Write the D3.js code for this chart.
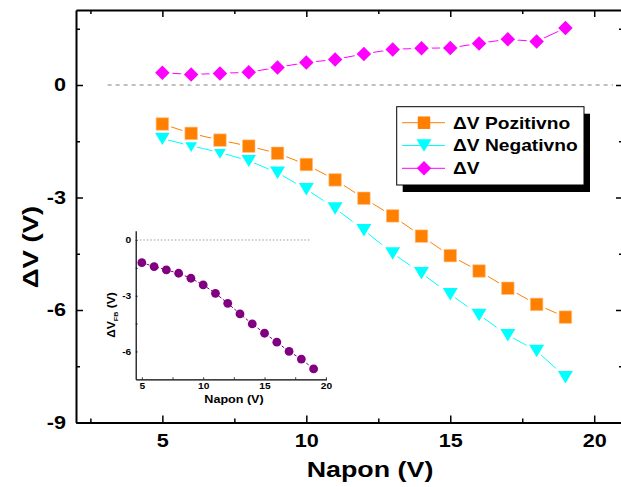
<!DOCTYPE html>
<html>
<head>
<meta charset="utf-8">
<script src="https://cdn.jsdelivr.net/npm/d3@7"></script>
<style>
  html, body { margin: 0; padding: 0; background: #fff; }
  svg { display: block; }
  text { font-family: "Liberation Sans", Arial, sans-serif; font-weight: bold; fill: #000; }
</style>
</head>
<body>
<svg id="chart" width="621" height="487"></svg>
<script>
// ---------- data ----------
const voltage = [5, 6, 7, 8, 9, 10, 11, 12, 13, 14, 15, 16, 17, 18, 19];
const dvPozitivno = [-1.04, -1.29, -1.47, -1.63, -1.82, -2.12, -2.53, -3.02, -3.49, -4.03, -4.55, -4.96, -5.42, -5.85, -6.19];
const dvNegativno = [-1.43, -1.62, -1.80, -2.02, -2.34, -2.78, -3.29, -3.87, -4.49, -5.02, -5.58, -6.13, -6.67, -7.09, -7.79];
const dvDelta = [0.33, 0.28, 0.31, 0.34, 0.47, 0.60, 0.68, 0.83, 0.95, 0.98, 0.99, 1.11, 1.22, 1.16, 1.52];
const dvFB = [-1.22, -1.43, -1.61, -1.79, -2.06, -2.42, -2.87, -3.41, -3.98, -4.52, -5.02, -5.50, -6.00, -6.41, -6.94];

const xMajorTicks = [5, 10, 15, 20];
const xMinorTicks = [2.5, 7.5, 12.5, 17.5];
const yMajorTicks = [0, -3, -6, -9];
const yMinorTicks = [1.5, -1.5, -4.5, -7.5];
const insetYMajorTicks = [0, -3, -6];
const insetYMinorTicks = [-1.5, -4.5];
const legendLabels = ["ΔV Pozitivno", "ΔV Negativno", "ΔV"];

// ---------- setup ----------
const svg = d3.select("#chart");
const STRETCH = 1.2;
const M = { left: 76, right: 623, top: 10, bottom: 422.5 };
const x = d3.scaleLinear().domain([2, 21]).range([M.left, M.right]);
const y = d3.scaleLinear().domain([-9, 2]).range([M.bottom, M.top]);

const colors = { poz: "#FF8000", neg: "#00FFFF", dv: "#FF00FF", fb: "#800080" };

// symbol paths
const sqPath = s => `M${-s/2},${-s/2}H${s/2}V${s/2}H${-s/2}Z`;
const triDown = (w, h) => `M${-w/2},${-h/2}H${w/2}L0,${h/2}Z`;
const diamond = (d) => `M0,${-d/2}L${d/2},0L0,${d/2}L${-d/2},0Z`;
const circle = r => `M${-r},0A${r},${r} 0 1,0 ${r},0A${r},${r} 0 1,0 ${-r},0Z`;

// ---------- main axes ----------
function styleAxis(g, lw) {
  g.select(".domain").attr("stroke", "#000").attr("stroke-width", lw);
  g.selectAll(".tick line").attr("stroke", "#000").attr("stroke-width", 1.5);
}
function addAxis(axisGen, transform, values, size, fmt, pad) {
  const g = svg.append("g").attr("transform", transform)
    .call(axisGen.tickValues(values).tickSize(size).tickSizeOuter(0).tickPadding(pad).tickFormat(fmt));
  styleAxis(g, 2);
  g.selectAll("text").attr("font-family", null).attr("font-size", null);
  return g;
}
const none = () => "";
// bottom
const gxb = addAxis(d3.axisBottom(x), `translate(0,${M.bottom})`, xMajorTicks, -7, d3.format("d"), 12);
gxb.selectAll("text").style("font-size", "18px").attr("transform", `scale(${STRETCH},1)`);
addAxis(d3.axisBottom(x), `translate(0,${M.bottom})`, xMinorTicks, -4, none, 0).select(".domain").remove();
// top
addAxis(d3.axisTop(x), `translate(0,${M.top})`, xMajorTicks, -7, none, 0);
addAxis(d3.axisTop(x), `translate(0,${M.top})`, xMinorTicks, -4, none, 0).select(".domain").remove();
// left
const gyl = addAxis(d3.axisLeft(y), `translate(${M.left},0)`, yMajorTicks, -7, d3.format("d"), 0);
gyl.selectAll("text").style("font-size", "18px")
  .attr("x", -10 / STRETCH)
  .attr("transform", `scale(${STRETCH},1)`)
  .text(d => d === 0 ? "0" : "-" + Math.abs(d));
addAxis(d3.axisLeft(y), `translate(${M.left},0)`, yMinorTicks, -4, none, 0).select(".domain").remove();
// right
addAxis(d3.axisRight(y), `translate(${M.right},0)`, yMajorTicks, -7, none, 0);
addAxis(d3.axisRight(y), `translate(${M.right},0)`, yMinorTicks, -4, none, 0).select(".domain").remove();

// zero reference line
svg.append("line")
  .attr("x1", x(3.1)).attr("x2", x(20.65))
  .attr("y1", y(0)).attr("y2", y(0))
  .attr("stroke", "#808080").attr("stroke-width", 1).attr("stroke-dasharray", "4,4");

// axis titles
svg.append("text")
  .attr("transform", `translate(370,477) scale(1.22,1)`)
  .attr("text-anchor", "middle").style("font-size", "22px")
  .text("Napon (V)");
svg.append("text")
  .attr("transform", `translate(38,247) rotate(-90) scale(1.25,1)`)
  .attr("text-anchor", "middle").style("font-size", "22px")
  .text("ΔV (V)");

// ---------- series ----------
function drawSeries(xs, ys, xSc, ySc, color, shape, opts = {}) {
  const pts = xs.map((v, i) => [xSc(v), ySc(ys[i])]);
  const line = d3.line();
  svg.append("path").attr("d", line(pts)).attr("fill", "none")
    .attr("stroke", color).attr("stroke-width", 1)
    .attr("stroke-dasharray", opts.dash || null);
  const g = svg.append("g");
  // halo for gaps
  if (opts.halo !== false) {
    g.selectAll(".halo").data(pts).join("path").attr("class", "halo")
      .attr("transform", d => `translate(${d[0]},${d[1]})`)
      .attr("d", shape).attr("fill", "#fff").attr("stroke", "#fff").attr("stroke-width", opts.halo || 5);
  }
  g.selectAll(".mk").data(pts).join("path").attr("class", "mk")
    .attr("transform", d => `translate(${d[0]},${d[1]})`)
    .attr("d", shape).attr("fill", color)
    .attr("stroke", opts.stroke || "none").attr("stroke-width", 0.6);
}
drawSeries(voltage, dvDelta, x, y, colors.dv, diamond(14.5));
drawSeries(voltage, dvNegativno, x, y, colors.neg, triDown(15, 12.5));
drawSeries(voltage, dvPozitivno, x, y, colors.poz, sqPath(12.5), { stroke: "#FFC080" });

// ---------- legend ----------
const L = { x: 396.7, y: 106.7, w: 187.3, h: 78.3 };
svg.append("rect").attr("x", L.x + 6).attr("y", L.y + 7).attr("width", L.w).attr("height", L.h).attr("fill", "#000");
svg.append("rect").attr("x", L.x).attr("y", L.y).attr("width", L.w).attr("height", L.h)
  .attr("fill", "#fff").attr("stroke", "#000").attr("stroke-width", 1);
const legendColors = [colors.poz, colors.neg, colors.dv];
const legendShapes = [sqPath(12.5), triDown(15, 12.5), diamond(14.5)];
legendLabels.forEach((lab, i) => {
  const cy = 122.7 + i * 22.8;
  svg.append("line").attr("x1", 402).attr("x2", 445).attr("y1", cy).attr("y2", cy)
    .attr("stroke", legendColors[i]).attr("stroke-width", 1);
  svg.append("path").attr("transform", `translate(424,${cy})`).attr("d", legendShapes[i])
    .attr("fill", legendColors[i]);
  svg.append("text").attr("transform", `translate(453,${cy + 5.8}) scale(${STRETCH},1)`)
    .style("font-size", "16px").text(lab);
});

// ---------- inset ----------
const I = { left: 135.7, right: 326.5, top: 230.7, bottom: 379.3 };
const xi = d3.scaleLinear().domain([4.5, 20.05]).range([I.left, I.right]);
const yi = d3.scaleLinear().domain([-7.5, 0.5]).range([I.bottom, I.top]);

function insetAxis(axisGen, transform, values, size, fmt, pad, keepDomain) {
  const g = svg.append("g").attr("transform", transform)
    .call(axisGen.tickValues(values).tickSize(size).tickSizeOuter(0).tickPadding(pad).tickFormat(fmt));
  g.select(".domain").attr("stroke", "#000").attr("stroke-width", 1.2);
  if (!keepDomain) g.select(".domain").remove();
  g.selectAll(".tick line").attr("stroke", "#000").attr("stroke-width", 0.8);
  g.selectAll("text").attr("font-family", null).attr("font-size", null).style("font-size", "8.5px");
  return g;
}
const gix = insetAxis(d3.axisBottom(xi), `translate(0,${I.bottom})`, xMajorTicks, -2, d3.format("d"), 4, true);
gix.selectAll("text").attr("transform", `scale(${STRETCH},1)`);
insetAxis(d3.axisBottom(xi), `translate(0,${I.bottom})`, xMinorTicks.filter(v => v > 4.5), -2, none, 0, false);
const giy = insetAxis(d3.axisLeft(yi), `translate(${I.left},0)`, insetYMajorTicks, -2, d3.format("d"), 0, true);
giy.selectAll("text").attr("x", -4.5 / STRETCH).attr("transform", `scale(${STRETCH},1)`)
  .text(d => d === 0 ? "0" : "-" + Math.abs(d));
insetAxis(d3.axisLeft(yi), `translate(${I.left},0)`, insetYMinorTicks, -2, none, 0, false);

svg.append("line")
  .attr("x1", xi(4.55)).attr("x2", xi(18.7)).attr("y1", yi(0)).attr("y2", yi(0))
  .attr("stroke", "#808080").attr("stroke-width", 0.8).attr("stroke-dasharray", "1.5,2");

drawSeries(voltage, dvFB, xi, yi, colors.fb, circle(4.4), { dash: "3,2", halo: false });

svg.append("text")
  .attr("transform", `translate(234,402.5) scale(${STRETCH},1)`)
  .attr("text-anchor", "middle").style("font-size", "10.5px")
  .text("Napon (V)");
const yt = svg.append("text")
  .attr("transform", `translate(115,315) rotate(-90) scale(${STRETCH},1)`)
  .attr("text-anchor", "middle").style("font-size", "10px");
yt.append("tspan").text("ΔV");
yt.append("tspan").attr("dy", 2.5).style("font-size", "6px").text("FB");
yt.append("tspan").attr("dy", -2.5).text(" (V)");
</script>
</body>
</html>
